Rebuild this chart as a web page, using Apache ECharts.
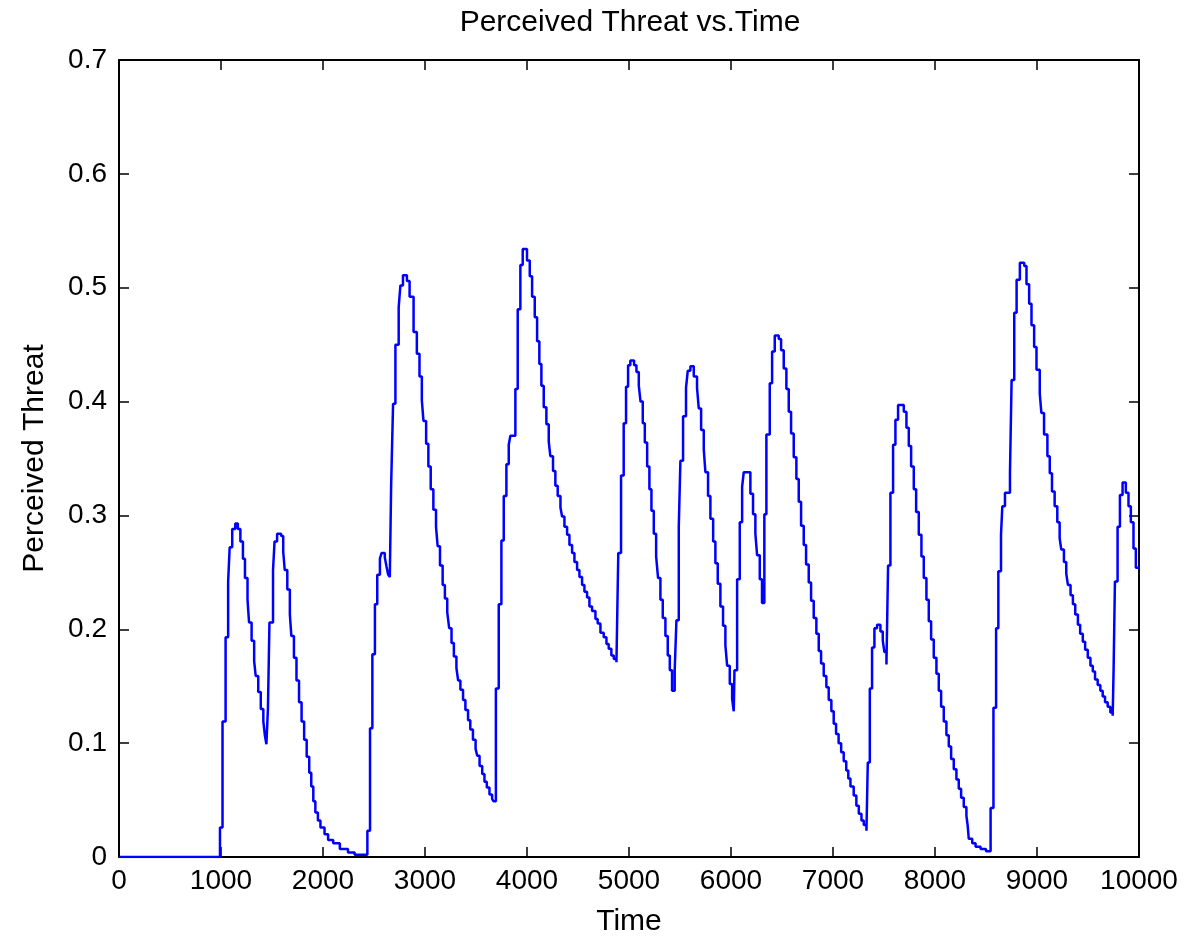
<!DOCTYPE html>
<html>
<head>
<meta charset="utf-8">
<script src="https://cdn.jsdelivr.net/npm/echarts@6/dist/echarts.min.js"></script>
<style>
html,body{margin:0;padding:0;background:#fff;}
#chart{width:1185px;height:942px;}
</style>
</head>
<body>
<div id="chart"></div>
<script>
// Time at which the perceived-threat level changes, and the level it takes from that time on
const changeTimes = [
  0,990,1015,1045,1070,1085,1110,1140,1165,1190,1215,1235,1260,1275,1300,1325,1340,1365,1390,1415,1430,1445,1460,1475,1510,1525,1550,1590,1610,1625,1650,1675,1690,1715,1740,1765,1790,1815,1840,1865,1885,1905,1925,1950,1975,2015,2050,2100,2165,2245,2310,
  2435,2461,2484,2509,2532,2558,2574,2606,2623,2639,2655,2668,2687,2710,2742,2759,2784,2823,2849,2888,2920,2946,2969,2985,3011,3033,3056,3082,3108,3124,3147,3173,3195,3218,3237,3260,3283,3308,3325,3347,3373,3396,3422,3444,3470,3496,3512,3535,3561,3583,3606,3632,3658,3671,
  3695,3723,3749,3772,3798,3821,3837,3886,3909,3935,3958,4000,4027,4050,4076,4099,4121,4141,4164,4190,4213,4229,4255,4278,4301,4328,4344,4367,4393,4416,4442,4465,4491,4514,4540,4563,4589,4612,4638,4671,4693,4720,4752,4779,4801,4827,4851,4877,
  4895,4922,4948,4971,4991,5013,5050,5073,5096,5113,5135,5155,5178,5200,5220,5243,5266,5285,5308,5331,5357,5380,5400,5422,
  5448,5465,5488,5504,5530,5559,5576,5602,5635,5667,5684,5707,5733,5749,5775,5798,5825,5847,5870,5896,5922,5945,5962,5988,6011,6027,
  6034,6060,6086,6109,6125,6190,6216,6239,6256,6282,6304,
  6327,6347,6380,6403,6429,6468,6491,6517,6543,6566,6589,6615,6641,6664,6687,6713,6736,6762,6785,6811,6837,6860,6883,6909,6935,6958,6984,7007,7030,7055,7080,7105,7130,7150,7171,7203,7229,7253,7279,7302,7328,
  7341,7361,7383,7406,7432,7465,7488,7504,7524,
  7540,7563,7589,7612,7638,7694,7720,7743,7766,7792,7815,7841,7867,7890,7916,7939,7962,7988,8014,8037,8060,8086,8112,8135,8158,8184,8210,8233,8256,8282,8308,8320,8331,8365,8398,8447,8500,
  8545,8573,8599,8621,8647,8660,8686,8735,8751,8777,8800,8832,8875,8897,8923,8946,8972,8995,9027,9043,9069,9102,9125,9147,9173,9199,9222,9238,9264,9287,9303,9329,9352,9375,9401,9423,9449,9472,9498,9524,9547,9569,9595,9621,9644,9667,9693,9719,9742,
  9751,9764,9790,9813,9839,9871,9897,9920,9946,9969
];
const threatLevels = [
  0,0.026,0.119,0.193,0.242,0.272,0.288,0.293,0.288,0.277,0.262,0.245,0.226,0.206,0.190,0.172,0.159,0.145,0.130,0.119,0.107,0.099,0.130,0.206,0.252,0.277,0.284,0.282,0.268,0.252,0.235,0.213,0.194,0.175,0.155,0.136,0.119,0.103,0.088,0.074,0.062,0.049,0.039,0.032,0.026,0.020,0.015,0.012,0.007,0.004,0.002,
  0.023,0.113,0.178,0.222,0.248,0.262,0.267,0.263,0.255,0.248,0.246,0.326,0.398,0.450,0.483,0.502,0.511,0.506,0.492,0.461,0.442,0.422,0.401,0.383,0.363,0.343,0.323,0.305,0.290,0.273,0.256,0.239,0.227,0.215,0.201,0.188,0.176,0.166,0.155,0.147,0.138,0.129,0.120,0.112,0.103,0.095,0.089,0.080,0.073,0.066,0.061,0.055,0.051,0.049,
  0.148,0.222,0.278,0.317,0.345,0.362,0.370,0.411,0.481,0.520,0.534,0.524,0.510,0.492,0.474,0.453,0.433,0.414,0.395,0.380,0.365,0.352,0.339,0.326,0.317,0.307,0.299,0.290,0.283,0.274,0.267,0.259,0.252,0.246,0.239,0.233,0.228,0.220,0.216,0.209,0.205,0.197,0.193,0.187,0.183,0.177,0.174,0.171,
  0.267,0.335,0.381,0.413,0.432,0.436,0.432,0.426,0.414,0.400,0.381,0.364,0.343,0.323,0.304,0.284,0.264,0.245,0.226,0.210,0.194,0.177,0.164,0.146,
  0.164,0.208,0.290,0.348,0.387,0.412,0.427,0.431,0.422,0.412,0.394,0.375,0.358,0.338,0.317,0.297,0.277,0.258,0.240,0.220,0.203,0.186,0.168,0.152,0.139,0.128,
  0.164,0.244,0.294,0.325,0.338,0.319,0.301,0.284,0.265,0.244,0.223,
  0.301,0.371,0.416,0.444,0.458,0.455,0.445,0.429,0.411,0.391,0.372,0.351,0.332,0.312,0.291,0.274,0.257,0.241,0.225,0.210,0.196,0.181,0.170,0.159,0.149,0.138,0.128,0.117,0.108,0.100,0.092,0.084,0.076,0.069,0.062,0.054,0.045,0.038,0.032,0.028,0.023,
  0.083,0.148,0.184,0.201,0.204,0.198,0.190,0.180,0.169,
  0.256,0.320,0.362,0.384,0.397,0.391,0.377,0.361,0.343,0.323,0.303,0.283,0.264,0.245,0.226,0.207,0.191,0.175,0.161,0.146,0.132,0.119,0.107,0.097,0.086,0.077,0.068,0.060,0.052,0.044,0.036,0.028,0.016,0.012,0.009,0.007,0.005,
  0.043,0.131,0.201,0.251,0.283,0.308,0.320,0.337,0.419,0.478,0.507,0.522,0.519,0.503,0.486,0.467,0.448,0.428,0.407,0.390,0.371,0.352,0.337,0.321,0.308,0.294,0.280,0.270,0.259,0.249,0.239,0.230,0.222,0.213,0.204,0.196,0.189,0.182,0.175,0.168,0.163,0.156,0.151,0.146,0.141,0.136,0.132,0.127,0.124,
  0.165,0.242,0.290,0.318,0.329,0.320,0.308,0.294,0.271,0.254
];
const timeEnd = 10000;
const xTicks = {min: 0, max: 10000, interval: 1000};
const yTicks = {min: 0, max: 0.7, interval: 0.1};
const titleText = 'Perceived Threat vs.Time';
const xName = 'Time';
const yName = 'Perceived Threat';

// build a staircase path from the change points
const stepData = [];
for (let i = 0; i < changeTimes.length; i++) {
  const tNext = i + 1 < changeTimes.length ? changeTimes[i + 1] : timeEnd;
  stepData.push([changeTimes[i], threatLevels[i]]);
  stepData.push([tNext, threatLevels[i]]);
}

const FONT = '"Liberation Sans", Arial, Helvetica, sans-serif';
const axisLineStyle = {color: '#000', width: 2};
const tick = {show: true, inside: true, length: 10, lineStyle: {color: '#000', width: 1.5}};

const chart = echarts.init(document.getElementById('chart'), null, {renderer: 'canvas'});
chart.setOption({
  animation: false,
  backgroundColor: '#fff',
  title: {
    text: titleText, left: 625, textAlign: 'center', top: 3,
    textStyle: {fontFamily: FONT, fontSize: 30, fontWeight: 'normal', color: '#000'}
  },
  grid: {left: 119, right: 46, top: 60, bottom: 77, containLabel: false},
  xAxis: [
    {
      type: 'value', position: 'bottom', min: xTicks.min, max: xTicks.max, interval: xTicks.interval,
      name: xName, nameLocation: 'middle', nameGap: 50,
      nameTextStyle: {fontFamily: FONT, fontSize: 30, color: '#000'},
      axisLine: {show: true, onZero: false, lineStyle: axisLineStyle},
      axisTick: tick,
      axisLabel: {fontFamily: FONT, fontSize: 28, color: '#000', margin: 10, formatter: v => String(v)},
      splitLine: {show: false}
    },
    {
      type: 'value', position: 'top', min: xTicks.min, max: xTicks.max, interval: xTicks.interval,
      axisLine: {show: true, onZero: false, lineStyle: axisLineStyle},
      axisTick: tick, axisLabel: {show: false}, splitLine: {show: false}
    }
  ],
  yAxis: [
    {
      type: 'value', position: 'left', min: yTicks.min, max: yTicks.max, interval: yTicks.interval,
      name: yName, nameLocation: 'middle', nameGap: 69, nameRotate: 90,
      nameTextStyle: {fontFamily: FONT, fontSize: 30, color: '#000'},
      axisLine: {show: true, onZero: false, lineStyle: axisLineStyle},
      axisTick: tick,
      axisLabel: {fontFamily: FONT, fontSize: 28, color: '#000', margin: 12, formatter: v => String(v)},
      splitLine: {show: false}
    },
    {
      type: 'value', position: 'right', min: yTicks.min, max: yTicks.max, interval: yTicks.interval,
      axisLine: {show: true, onZero: false, lineStyle: axisLineStyle},
      axisTick: tick, axisLabel: {show: false}, splitLine: {show: false}
    }
  ],
  series: [{
    type: 'line', xAxisIndex: 0, yAxisIndex: 0,
    data: stepData, showSymbol: false, symbol: 'none',
    lineStyle: {color: '#0000ff', width: 2.5},
    clip: true
  }]
});
</script>
</body>
</html>
